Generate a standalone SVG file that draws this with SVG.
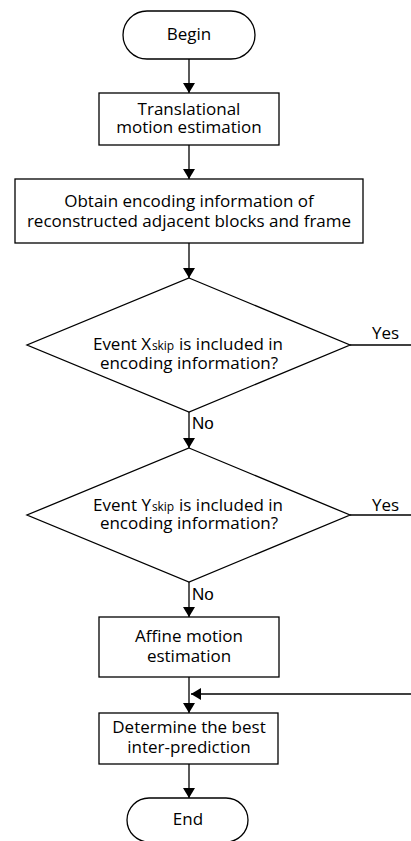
<svg xmlns="http://www.w3.org/2000/svg" width="411" height="841" viewBox="0 0 411 841">
<style>
.s{fill:#fff;stroke:#000;stroke-width:1.3}
.t{font-family:"Open Sans","Noto Sans","Liberation Sans",sans-serif;font-size:17px;fill:#000;text-anchor:middle}
.l{font-family:"Open Sans","Noto Sans","Liberation Sans",sans-serif;font-size:17px;fill:#000}
.n{font-family:"Liberation Sans",Arial,sans-serif;font-size:17px;fill:#000}
.sub{font-family:"Open Sans","Noto Sans","Liberation Sans",sans-serif;font-size:12px;fill:#000}
.c{fill:none;stroke:#000;stroke-width:1.3}
</style>
<defs>
<marker id="a" markerWidth="10" markerHeight="12" refX="10" refY="6" orient="auto" markerUnits="userSpaceOnUse" viewBox="0 0 10 12">
<path d="M0,0 L10,6 L0,12 z" fill="#000"/>
</marker>
</defs>
<g id="connectors">
<line class="c" x1="189" y1="59" x2="189" y2="93" marker-end="url(#a)"/>
<line class="c" x1="189" y1="145" x2="189" y2="179" marker-end="url(#a)"/>
<line class="c" x1="189" y1="243" x2="189" y2="278" marker-end="url(#a)"/>
<line class="c" x1="189" y1="412" x2="189" y2="448" marker-end="url(#a)"/>
<line class="c" x1="350" y1="345" x2="411" y2="345"/>
<line class="c" x1="189" y1="582" x2="189" y2="617" marker-end="url(#a)"/>
<line class="c" x1="350" y1="515" x2="411" y2="515"/>
<line class="c" x1="189" y1="677" x2="189" y2="713" marker-end="url(#a)"/>
<line class="c" x1="411" y1="694" x2="191" y2="694" marker-end="url(#a)"/>
<line class="c" x1="189" y1="764" x2="189" y2="798" marker-end="url(#a)"/>
<text class="l" x="372" y="339">Yes</text>
<text class="n" x="192" y="429">No</text>
<text class="l" x="372" y="511">Yes</text>
<text class="n" x="192" y="600">No</text>
</g>
<g id="begin">
<rect class="s" x="123" y="11" width="132" height="48" rx="24"/>
<text class="t" x="189" y="40">Begin</text>
</g>
<g id="translational">
<rect class="s" x="99" y="93" width="180" height="52"/>
<text class="t" x="189" y="115">Translational</text>
<text class="t" x="189" y="133">motion estimation</text>
</g>
<g id="obtain">
<rect class="s" x="15" y="179" width="348" height="64"/>
<text class="t" x="189" y="207">Obtain encoding information of</text>
<text class="t" x="189" y="227">reconstructed adjacent blocks and frame</text>
</g>
<g id="decision-x">
<polygon class="s" points="189,278 350,345 189,412 27,345"/>
<text class="l" x="93" y="350" textLength="58">Event X</text>
<text class="sub" x="152" y="350" textLength="22">skip</text>
<text class="l" x="179" y="350" textLength="104">is included in</text>
<text class="t" x="189" y="369">encoding information?</text>
</g>
<g id="decision-y">
<polygon class="s" points="189,448 350,515 189,582 27,515"/>
<text class="l" x="93" y="511" textLength="58">Event Y</text>
<text class="sub" x="152" y="511" textLength="22">skip</text>
<text class="l" x="179" y="511" textLength="104">is included in</text>
<text class="t" x="189" y="529">encoding information?</text>
</g>
<g id="affine">
<rect class="s" x="99" y="617" width="180" height="60"/>
<text class="t" x="189" y="642">Affine motion</text>
<text class="t" x="189" y="662">estimation</text>
</g>
<g id="determine">
<rect class="s" x="99" y="713" width="179" height="51"/>
<text class="t" x="189" y="733">Determine the best</text>
<text class="t" x="189" y="753">inter-prediction</text>
</g>
<g id="end">
<rect class="s" x="127" y="798" width="121" height="44" rx="22"/>
<text class="t" x="188" y="825">End</text>
</g>
</svg>
